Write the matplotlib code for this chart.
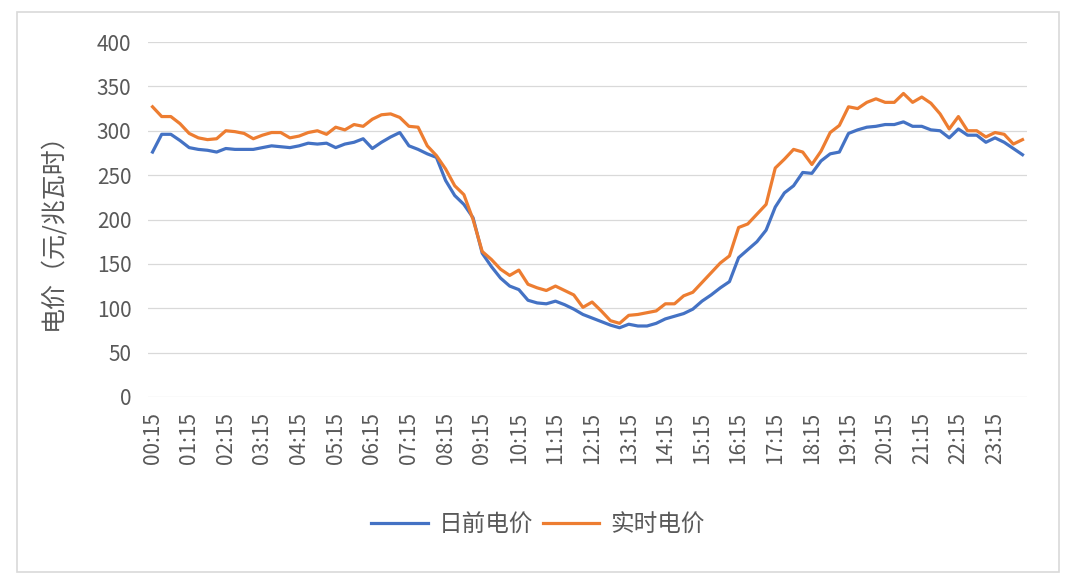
import matplotlib
matplotlib.use("Agg")
import matplotlib.pyplot as plt
from matplotlib.patches import Rectangle

plt.rcParams["font.family"] = ["Noto Sans CJK SC", "DejaVu Sans"]

# 96 个 15 分钟时段
times = ["%02d:%02d" % divmod(15 * (i + 1), 60) for i in range(96)]

day_ahead = [
    276, 296, 296, 289, 281, 279, 278, 276, 280, 279, 279, 279,
    281, 283, 282, 281, 283, 286, 285, 286, 281, 285, 287, 291,
    280, 287, 293, 298, 283, 279, 274, 270, 244, 227, 217, 202,
    162, 147, 134, 125, 121, 109, 106, 105, 108, 104, 99, 93,
    89, 85, 81, 78, 82, 80, 80, 83, 88, 91, 94, 99,
    108, 115, 123, 130, 157, 166, 175, 188, 214, 230, 238, 253,
    252, 266, 274, 276, 297, 301, 304, 305, 307, 307, 310, 305,
    305, 301, 300, 292, 302, 295, 295, 287, 292, 287, 280, 273,
]
real_time = [
    327, 316, 316, 308, 297, 292, 290, 291, 300, 299, 297, 291,
    295, 298, 298, 292, 294, 298, 300, 296, 304, 301, 307, 305,
    313, 318, 319, 315, 305, 304, 283, 272, 257, 238, 228, 200,
    164, 155, 144, 137, 143, 127, 123, 120, 125, 120, 115, 101,
    107, 97, 86, 83, 92, 93, 95, 97, 105, 105, 114, 118,
    129, 140, 151, 159, 191, 195, 206, 217, 258, 268, 279, 276,
    262, 277, 298, 306, 327, 325, 332, 336, 332, 332, 342, 332,
    338, 331, 319, 302, 316, 300, 300, 293, 298, 296, 285, 290,
]

gray = "#595959"
fig = plt.figure(figsize=(10.8, 5.81), dpi=100)
ax = fig.add_axes([0.137, 0.3167, 0.814, 0.611])

x = list(range(len(times)))
ax.plot(x, day_ahead, color="#4472C4", linewidth=2.3, label="日前电价")
ax.plot(x, real_time, color="#ED7D31", linewidth=2.3, label="实时电价")

ax.set_xlim(-0.5, len(times) - 0.5)
ax.set_ylim(0, 400)
ax.set_yticks(range(0, 401, 50))
ax.set_xticks(x[::4])
ax.set_xticklabels(times[::4], rotation=90)
ax.tick_params(axis="both", length=0, labelsize=15, labelcolor=gray)
ax.tick_params(axis="y", pad=12)
ax.tick_params(axis="x", pad=11)
ax.grid(axis="y", color="#D9D9D9", linewidth=0.9)
ax.set_axisbelow(True)
for s in ax.spines.values():
    s.set_visible(False)

ax.set_ylabel("电价（元/兆瓦时）", fontsize=18, color=gray)
ax.yaxis.set_label_coords(-0.094, 0.483)

fig.legend(loc="center", bbox_to_anchor=(0.498, 0.0964), ncol=2, frameon=False,
           fontsize=17, labelcolor=gray, handlelength=2.4, handletextpad=0.45,
           columnspacing=0.4)

fig.patches.append(Rectangle((0.0157, 0.0155), 0.965, 0.964, transform=fig.transFigure,
                             fill=False, edgecolor="#D9D9D9", linewidth=1.2))

fig.savefig("out.png", dpi=100)
